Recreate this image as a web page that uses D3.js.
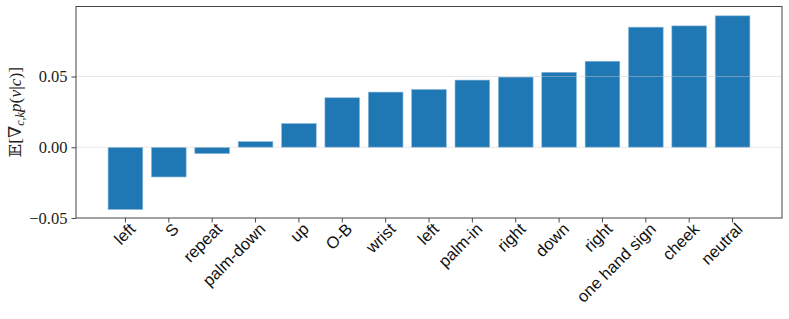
<!DOCTYPE html>
<html>
<head>
<meta charset="utf-8">
<script src="https://cdn.jsdelivr.net/npm/d3@7"></script>
<style>
body { margin: 0; background: #fff; }
</style>
</head>
<body>
<div class="canva"></div>
<script>
// categories and values
const labels = ["left", "S", "repeat", "palm-down", "up", "O-B", "wrist", "left",
  "palm-in", "right", "down", "right", "one hand sign", "cheek", "neutral"];
const values = [-0.044, -0.021, -0.0045, 0.004, 0.0168, 0.035, 0.039, 0.0409,
  0.0475, 0.0496, 0.053, 0.0608, 0.0849, 0.0858, 0.0929];
const yTicks = [-0.05, 0.00, 0.05];
const gridTicks = [0.00, 0.05];

const W = 789, H = 319;
const pLeft = 76, pRight = 782, pTop = 6.5, pBottom = 218;

const svg = d3.select(".canva").append("svg")
  .attr("width", W)
  .attr("height", H);

const idx = d3.range(labels.length);

const x = d3.scaleBand()
  .domain(idx)
  .range([pLeft, pRight])
  .paddingInner(0.2)
  .paddingOuter(0.74);

const y = d3.scaleLinear()
  .domain([-0.05, 0.0995])
  .range([pBottom, pTop]);

// bars
svg.append("g")
  .selectAll("rect")
  .data(values)
  .join("rect")
  .attr("x", (d, i) => x(i))
  .attr("width", x.bandwidth())
  .attr("y", d => y(Math.max(0, d)))
  .attr("height", d => Math.abs(y(d) - y(0)))
  .attr("fill", "#1f77b4")
  .attr("stroke", "#8fbbdb")
  .attr("stroke-width", 0.6);

// grid, drawn over the bars
svg.append("g")
  .selectAll("line")
  .data(gridTicks)
  .join("line")
  .attr("x1", pLeft)
  .attr("x2", pRight)
  .attr("y1", d => y(d))
  .attr("y2", d => y(d))
  .attr("stroke", "#cccccc")
  .attr("stroke-opacity", 0.45)
  .attr("stroke-width", 1);

// y axis
const yAxis = svg.append("g")
  .attr("transform", `translate(${pLeft},0)`)
  .call(d3.axisLeft(y).tickValues(yTicks).tickSize(4.5).tickPadding(4)
    .tickFormat(d => (d < 0 ? "\u22120.05" : d3.format(".2f")(d))));
yAxis.select(".domain").remove();
yAxis.selectAll("line").attr("stroke", "#333").attr("stroke-width", 0.9);
yAxis.selectAll("text")
  .attr("fill", "#222")
  .style("font-family", "'Liberation Serif', 'DejaVu Serif', serif")
  .style("font-size", "16.5px");

// x axis
const xAxis = svg.append("g")
  .attr("transform", `translate(0,${pBottom})`)
  .call(d3.axisBottom(x).tickSize(4.5).tickFormat(i => labels[i]));
xAxis.select(".domain").remove();
xAxis.selectAll("line").attr("stroke", "#333").attr("stroke-width", 0.9);
xAxis.selectAll("text")
  .attr("fill", "#111")
  .attr("text-anchor", "end")
  .attr("x", 0)
  .attr("y", 0)
  .attr("dy", "0.35em")
  .attr("transform", "translate(7,8) rotate(-45)")
  .style("font-family", "'Liberation Sans', Arial, sans-serif")
  .style("font-size", "16.5px");

// frame
svg.append("rect")
  .attr("x", pLeft)
  .attr("y", pTop)
  .attr("width", pRight - pLeft)
  .attr("height", pBottom - pTop)
  .attr("fill", "none")
  .attr("stroke", "#444")
  .attr("stroke-width", 1);

// y label
const yl = svg.append("text")
  .attr("transform", "translate(21,112) rotate(-90)")
  .attr("text-anchor", "middle")
  .attr("fill", "#222")
  .style("font-family", "'Liberation Serif', 'DejaVu Serif', serif")
  .style("font-size", "17.5px");
yl.append("tspan").text("\uD835\uDD3C[\u2207");
yl.append("tspan").attr("font-style", "italic").attr("font-size", "12px").attr("dy", 3).text("c,k");
yl.append("tspan").attr("font-style", "italic").attr("dy", -3).text("p");
yl.append("tspan").text("(");
yl.append("tspan").attr("font-style", "italic").text("v");
yl.append("tspan").text("|");
yl.append("tspan").attr("font-style", "italic").text("c");
yl.append("tspan").text(")]");
</script>
</body>
</html>
